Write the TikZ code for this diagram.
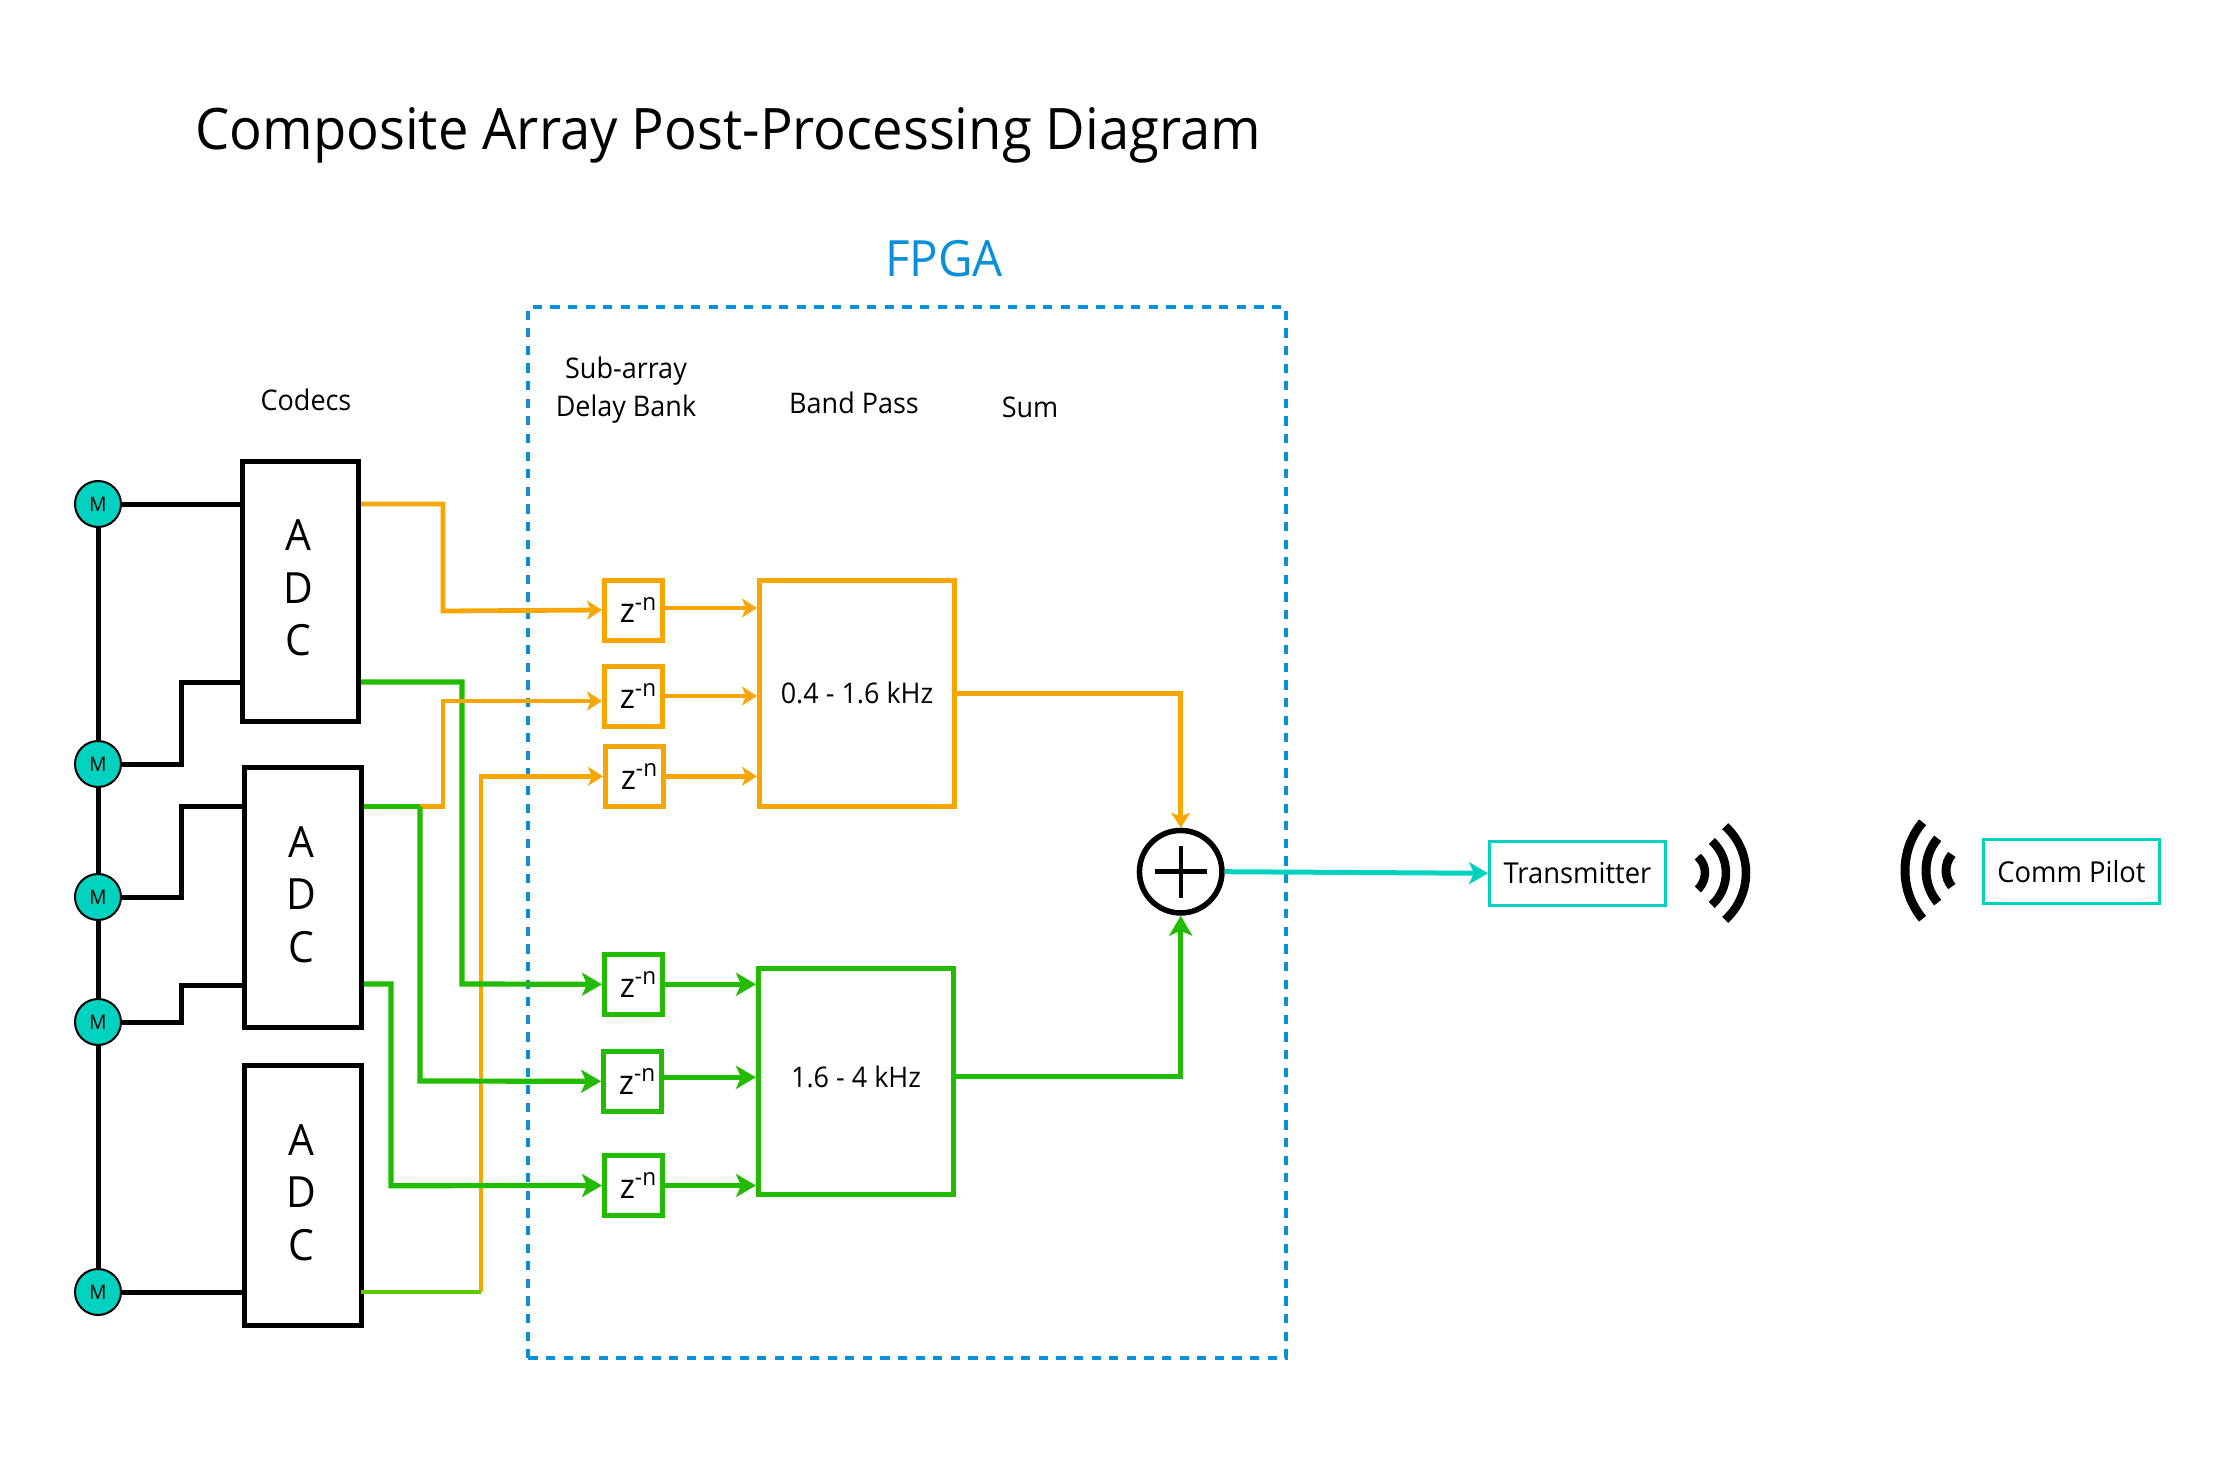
\documentclass[tikz,border=0pt]{standalone}
\usepackage{fontspec}
\setmainfont{Open Sans}[FakeStretch=0.95]
\usetikzlibrary{arrows.meta,positioning}
\definecolor{tealm}{HTML}{00D2C0}
\definecolor{orangeband}{HTML}{F7A600}
\definecolor{greenband}{HTML}{22BB00}
\definecolor{limeband}{HTML}{5FC800}
\definecolor{bluefpga}{HTML}{0A90D8}
\newcommand{\zdelay}{\hspace*{5pt}z\textsuperscript{-n}}
\begin{document}
\begin{tikzpicture}[x=.5pt,y=-.5pt]
\tikzstyle{mic} = [circle, draw=black, line width=1pt, fill=tealm, minimum size=23pt, inner sep=0pt, font=\fontsize{10}{12}\selectfont]
\tikzstyle{adc} = [draw=black, line width=2.5pt, minimum width=58.25pt, minimum height=130pt, label={[xshift=-1pt,yshift=1.75pt,align=center,font=\fontsize{21.5}{26.25}\selectfont]center:{A\\D\\C}}]
\tikzstyle{delay} = [draw, line width=2.5pt, minimum width=29pt, minimum height=30pt, inner sep=0pt, font=\fontsize{17}{20}\selectfont]
\tikzstyle{band} = [draw, line width=2.5pt, minimum width=97.5pt, minimum height=112.75pt, font=\fontsize{14.2}{17}\selectfont]
\tikzstyle{radio} = [draw=tealm, line width=1.5pt, minimum width=88pt, minimum height=32pt, font=\fontsize{14.4}{17}\selectfont]
\tikzstyle{head} = [anchor=base, font=\fontsize{14.2}{18.75}\selectfont]
\tikzstyle{wire} = [draw=black, line width=2.5pt]
\tikzstyle{orangeline} = [draw=orangeband, line width=2.4pt]
\tikzstyle{greenline} = [draw=greenband, line width=2.6pt]
\tikzstyle{orangetip} = [-{Stealth[length=7.5pt,width=9.5pt,inset=2pt]}]
\tikzstyle{greentip} = [-{Stealth[length=10pt,width=11.5pt,inset=2.5pt]}]
\useasboundingbox (0,0) rectangle (2240,1461);
\node[anchor=base west, inner sep=0pt, font=\fontsize{28.6}{34}\selectfont] (title) at (195,150) {Composite Array Post-Processing Diagram};
\node[anchor=base, inner sep=0pt, text=bluefpga, font=\fontsize{25}{30}\selectfont] (fpgalabel) at (944,277) {FPGA};
\node[draw=bluefpga, line width=2pt, dash pattern=on 4.6pt off 4.2pt, minimum width=378.6pt, minimum height=525.6pt] (fpga) at (907,832.3) {};
\node[head] (codecs) at (306,410) {Codecs};
\node[head, align=center] (subarray) at (626,416) {Sub-array\\Delay Bank};
\node[head] (bandpass) at (854,413) {Band Pass};
\node[head] (sumlabel) at (1030,417) {Sum};
\node[mic] (m1) at (98,504) {M};
\node[mic] (m2) at (98,764) {M};
\node[mic] (m3) at (98,897) {M};
\node[mic] (m4) at (98,1022) {M};
\node[mic] (m5) at (98,1292) {M};
\node[adc] (adc1) at (300.3,591.5) {};
\node[adc] (adc2) at (303.2,897.8) {};
\node[adc] (adc3) at (303.2,1195.8) {};
\node[delay, draw=orangeband] (z1) at (633.5,610) {\zdelay};
\node[delay, draw=orangeband] (z2) at (633.5,696) {\zdelay};
\node[delay, draw=orangeband] (z3) at (634.5,776.3) {\zdelay};
\node[delay, draw=greenband] (z4) at (633.5,984.3) {\zdelay};
\node[delay, draw=greenband] (z5) at (632.6,1081.3) {\zdelay};
\node[delay, draw=greenband] (z6) at (633.5,1185.5) {\zdelay};
\node[band, draw=orangeband] (f1) at (857,693.3) {0.4 - 1.6 kHz};
\node[band, draw=greenband, label={[yshift=2.25pt,font=\fontsize{14.2}{17}\selectfont]center:1.6 - 4 kHz}] (f2) at (856,1081.3) {};
\node[circle, draw=black, line width=2.75pt, minimum size=41.25pt, inner sep=0pt] (sum) at (1180.7,871.7) {};
\node[radio] (tx) at (1577.5,873.3) {Transmitter};
\node[radio] (pilot) at (2071.5,871.3) {Comm Pilot};
\coordinate (t1) at (361,504);
\coordinate (t2) at (361,682);
\coordinate (t3) at (364,806.7);
\coordinate (t4) at (364,984);
\coordinate (t5) at (361,1292);
\coordinate (b2) at (181,682);
\coordinate (b3) at (181,806);
\coordinate (b4) at (181,985);
\coordinate (r1) at (443,611);
\coordinate (r2) at (443,701);
\coordinate (r3) at (481,776);
\coordinate (r4) at (462,984);
\coordinate (r5) at (420,1081);
\coordinate (r6) at (391,1185.7);
\draw[wire] (m1) -- (m2) -- (m3) -- (m4) -- (m5);
\draw[wire] (m1) -- (m1 -| adc1.west);
\draw[wire] (m2) -| (b2) -- (b2 -| adc1.west);
\draw[wire] (m3) -| (b3) -- (b3 -| adc2.west);
\draw[wire] (m4) -| (b4) -- (b4 -| adc2.west);
\draw[wire] (m5) -- (m5 -| adc3.west);
\draw[orangeline, orangetip] (t1) -| (r1) -- (z1.west);
\draw[orangeline, orangetip] (t5 -| r3) |- (z3.west);
\draw[draw=limeband, line width=2.4pt] (t5) -- (t5 -| r3);
\draw[greenline, greentip] (t2) -| (r4) -- (z4.west);
\draw[orangeline, orangetip] (t3) -| (r2) -- ([yshift=-2.5pt]z2.west);
\draw[greenline] (t3) -- (t3 -| r5);
\draw[greenline, greentip] (t3 -| r5) -- (r5) -- (z5.west);
\draw[greenline, greentip] (t4) -| (r6) -- (z6.west);
\draw[orangeline, orangetip] ([yshift=1pt]z1.east) -- ([yshift=1pt]z1.east -| f1.west);
\draw[orangeline, orangetip] (z2.east) -- (z2.east -| f1.west);
\draw[orangeline, orangetip] (z3.east) -- (z3.east -| f1.west);
\draw[greenline, greentip] (z4.east) -- (z4.east -| f2.west);
\draw[greenline, greentip] ([yshift=2pt]z5.east) -- ([yshift=2pt]z5.east -| f2.west);
\draw[greenline, greentip] (z6.east) -- (z6.east -| f2.west);
\draw[orangeline, orangetip] (f1.east) -| (sum.north);
\draw[greenline, greentip] ([yshift=2.25pt]f2.east) -| (sum.south);
\draw[draw=tealm, line width=2.5pt, -{Stealth[length=9.5pt,width=11pt,inset=2.5pt]}] (sum.east) -- (tx.west);
\draw[black, line width=2.5pt] ([xshift=-13pt]sum.center) -- ([xshift=13pt]sum.center);
\draw[black, line width=2pt] ([yshift=-13pt]sum.center) -- ([yshift=13pt]sum.center);
\foreach \r in {22,43,63}
    \draw[black, line width=4.25pt] (1683,873) ++(48:\r) arc[start angle=48, end angle=-48, radius=\r];
\foreach \c/\r in {1971/25,1976/50,1980/75}
    \draw[black, line width=4.5pt] (\c,870.5) ++(140:\r) arc[start angle=140, end angle=220, radius=\r];
\end{tikzpicture}
\end{document}
